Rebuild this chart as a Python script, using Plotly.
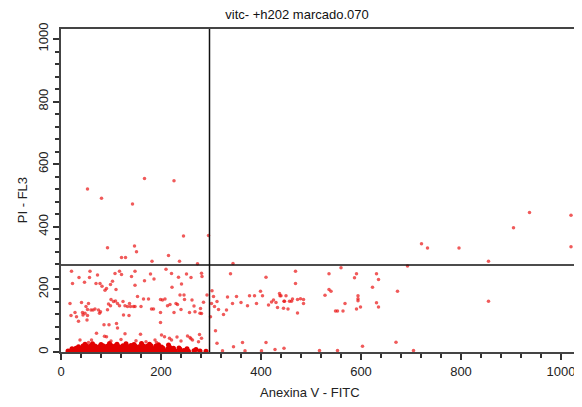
import plotly.graph_objects as go

title_text = "vitc- +h202 marcado.070"
x_title = "Anexina V - FITC"
y_title = "PI - FL3"
tick_vals = [0, 200, 400, 600, 800, 1000]
tick_text = ["0", "200", "400", "600", "800", "1000"]
gate_x = 297
gate_y = 278

# upper-left quadrant
ul_x = [53, 167, 226, 81, 143, 245, 93, 147, 151, 121, 129, 182, 215, 237, 273, 295]
ul_y = [521, 554, 547, 491, 473, 371, 333, 339, 320, 302, 302, 290, 308, 290, 282, 372]

# upper-right quadrant
ur_x = [344, 721, 733, 796, 855, 905, 937, 693, 1020, 1020]
ur_y = [283, 346, 332, 332, 290, 397, 446, 275, 437, 336]

# lower-right quadrant
lr_x = [560, 469, 469, 536, 591, 631, 587, 635, 623, 536, 540, 528, 673, 855, 594, 594, 594,
        438, 450, 446, 461, 473, 485, 485, 454, 473, 568, 549, 553, 564, 591, 599, 631, 635,
        446, 517, 553, 603, 670, 705,
        302, 305, 301, 307, 312, 315, 299, 325, 331, 333, 339, 351, 343, 360, 373, 377, 387,
        391, 399, 403, 410, 415, 421, 425, 430, 437, 440, 433, 445, 447, 457, 463, 479,
        312, 323, 345, 363, 368, 401, 410, 428, 309]
lr_y = [269, 258, 219, 250, 250, 250, 237, 232, 207, 200, 194, 181, 194, 162, 180, 170, 164,
        180, 180, 162, 162, 168, 168, 155, 137, 125, 155, 131, 131, 131, 137, 144, 157, 144,
        12, 5, 5, 18, 31, 5,
        196, 177, 155, 145, 161, 136, 113, 120, 134, 176, 250, 177, 155, 158, 148, 180, 180,
        155, 194, 180, 239, 150, 160, 166, 158, 187, 180, 142, 140, 162, 162, 169, 170,
        28, 4, 17, 30, 4, 4, 30, 8, 68]

# lower-left quadrant, scattered events
ll_x = [21, 58, 117, 148, 210, 221, 36, 57, 73, 108, 121, 141, 167, 179, 23, 47, 70, 78, 82,
        99, 103, 110, 88, 91, 148, 186, 222, 235, 241, 251, 260, 281, 282, 292, 285, 278,
        153, 137, 148, 160, 165, 175, 181, 185, 199, 203, 208, 199, 199, 213, 218, 230, 233,
        226, 238, 246, 247, 240, 257, 262, 266, 268, 279, 281,
        18, 20, 28, 31, 35, 41, 43, 44, 50, 53, 55, 48, 53, 60, 64, 68, 52, 75, 77, 79, 95,
        99, 93, 100, 105, 109, 113, 117, 124, 128, 133, 139, 145, 125, 136, 86, 96, 111, 113,
        71, 87, 91, 128, 159, 38, 55, 61, 188, 191, 201, 207, 217, 221, 253, 258, 263, 277,
        281, 275, 120, 240, 260, 150, 170, 100, 232]
ll_y = [258, 258, 258, 258, 264, 251, 238, 238, 246, 251, 248, 241, 228, 249, 219, 223, 219,
        219, 210, 216, 226, 200, 197, 203, 213, 233, 207, 239, 217, 249, 238, 252, 241, 182,
        159, 124, 177, 155, 145, 145, 169, 169, 137, 137, 168, 166, 169, 126, 94, 148, 152,
        155, 152, 126, 182, 182, 168, 136, 126, 166, 147, 129, 139, 123,
        155, 117, 126, 113, 98, 158, 126, 118, 145, 136, 155, 124, 117, 134, 134, 137, 102,
        134, 124, 129, 153, 148, 135, 168, 161, 163, 155, 148, 161, 148, 145, 145, 145, 118,
        117, 87, 87, 91, 77,
        60, 50, 49, 58, 57, 38, 30, 38, 38, 30, 54, 49, 44, 38, 51, 46, 38, 56, 44, 33, 40,
        35, 42, 36, 33, 35, 48]

# lower-left quadrant, dense population near the origin
blob_x = [14, 21, 27, 33, 40, 46, 52, 59, 65, 71, 78, 84, 90, 97, 103, 109, 116, 122, 128,
          135, 141, 147, 154, 160, 166, 173, 179, 185, 192, 198, 205, 212, 220, 228, 237,
          246, 255, 266, 278, 290,
          22, 30, 37, 43, 50, 56, 62, 69, 75, 81, 88, 94, 100, 107, 113, 119, 126, 132, 138,
          145, 151, 157, 164, 170, 176, 183, 189, 196, 204, 214, 225, 238, 252, 270,
          35, 44, 52, 60, 68, 76, 84, 92, 100, 108, 116, 124, 132, 140, 148, 156, 164, 172,
          180, 190, 201, 218, 236,
          48, 63, 80, 97, 112, 130, 146, 161, 177, 195, 215]
blob_y = [3, 5, 2, 4, 6, 3, 5, 2, 4, 6, 3, 5, 2, 4, 6, 3, 5, 2, 4, 6, 3, 5, 2, 4, 6, 3, 5, 2,
          4, 6, 3, 5, 2, 4, 3, 5, 2, 4, 3, 2,
          10, 12, 11, 13, 12, 10, 14, 11, 13, 12, 10, 14, 11, 13, 12, 10, 14, 11, 13, 12, 10,
          14, 11, 13, 12, 10, 14, 11, 12, 10, 12, 9, 10, 8,
          17, 19, 18, 20, 19, 17, 20, 18, 21, 19, 17, 20, 18, 21, 19, 17, 20, 18, 20, 19, 16,
          14, 13,
          25, 26, 24, 27, 25, 26, 24, 27, 25, 23, 22]

sc_x = ul_x + ur_x + lr_x + ll_x
sc_y = ul_y + ur_y + lr_y + ll_y

fig = go.Figure()
fig.add_trace(go.Scatter(
    x=blob_x, y=blob_y, mode="markers",
    marker=dict(size=5, color="rgb(226,0,0)", line=dict(width=0)),
    hoverinfo="skip", showlegend=False,
))
fig.add_trace(go.Scatter(
    x=sc_x, y=sc_y, mode="markers",
    marker=dict(size=3.5, color="rgba(234,20,20,0.7)", line=dict(width=0)),
    hoverinfo="skip", showlegend=False,
))

fig.add_shape(type="line", xref="x", yref="paper", x0=gate_x, x1=gate_x, y0=0, y1=1,
              line=dict(color="#111111", width=1.5))
fig.add_shape(type="line", xref="paper", yref="y", x0=0, x1=1, y0=gate_y, y1=gate_y,
              line=dict(color="#111111", width=1.5))

axis_font = dict(family="Liberation Sans, Arial, sans-serif", size=13, color="#222222")

# page body has an 8px margin, so the figure is sized to the visible area
fig.update_layout(
    width=574, height=399,
    margin=dict(l=53, r=8, t=21, b=55),
    paper_bgcolor="white", plot_bgcolor="white",
    font=axis_font,
    title=dict(text=title_text, x=289 / 574, xref="container", xanchor="center",
               y=1 - 6 / 399, yref="container", yanchor="middle",
               font=dict(family="Liberation Sans, Arial, sans-serif", size=13, color="#111111")),
    xaxis=dict(range=[0, 1026], tickvals=tick_vals, ticktext=tick_text, automargin=False,
               ticks="outside", ticklen=6, tickwidth=1.5, tickcolor="#333333",
               minor=dict(dtick=40, tick0=0, ticks="outside", ticklen=4, tickwidth=1.5,
                          tickcolor="#333333", showgrid=False),
               showgrid=False, zeroline=False, showline=True, linecolor="#444444",
               linewidth=2, mirror=True),
    yaxis=dict(range=[0, 1032], tickvals=tick_vals, ticktext=tick_text, automargin=False,
               ticks="outside", ticklen=6, tickwidth=1.5, tickcolor="#333333",
               minor=dict(dtick=40, tick0=0, ticks="outside", ticklen=4, tickwidth=1.5,
                          tickcolor="#333333", showgrid=False),
               tickangle=-90,
               showgrid=False, zeroline=False, showline=True, linecolor="#444444",
               linewidth=1.5, mirror=True),
    annotations=[
        dict(text=x_title, xref="paper", yref="paper", x=(302 - 53) / 513, y=0,
             yshift=-40, xanchor="center", yanchor="middle", showarrow=False, font=axis_font),
        dict(text=y_title, xref="paper", yref="paper", x=-39 / 513, y=0.47,
             textangle=-90, xanchor="center", yanchor="middle", showarrow=False,
             font=axis_font),
    ],
)

fig.write_html("out.html")
